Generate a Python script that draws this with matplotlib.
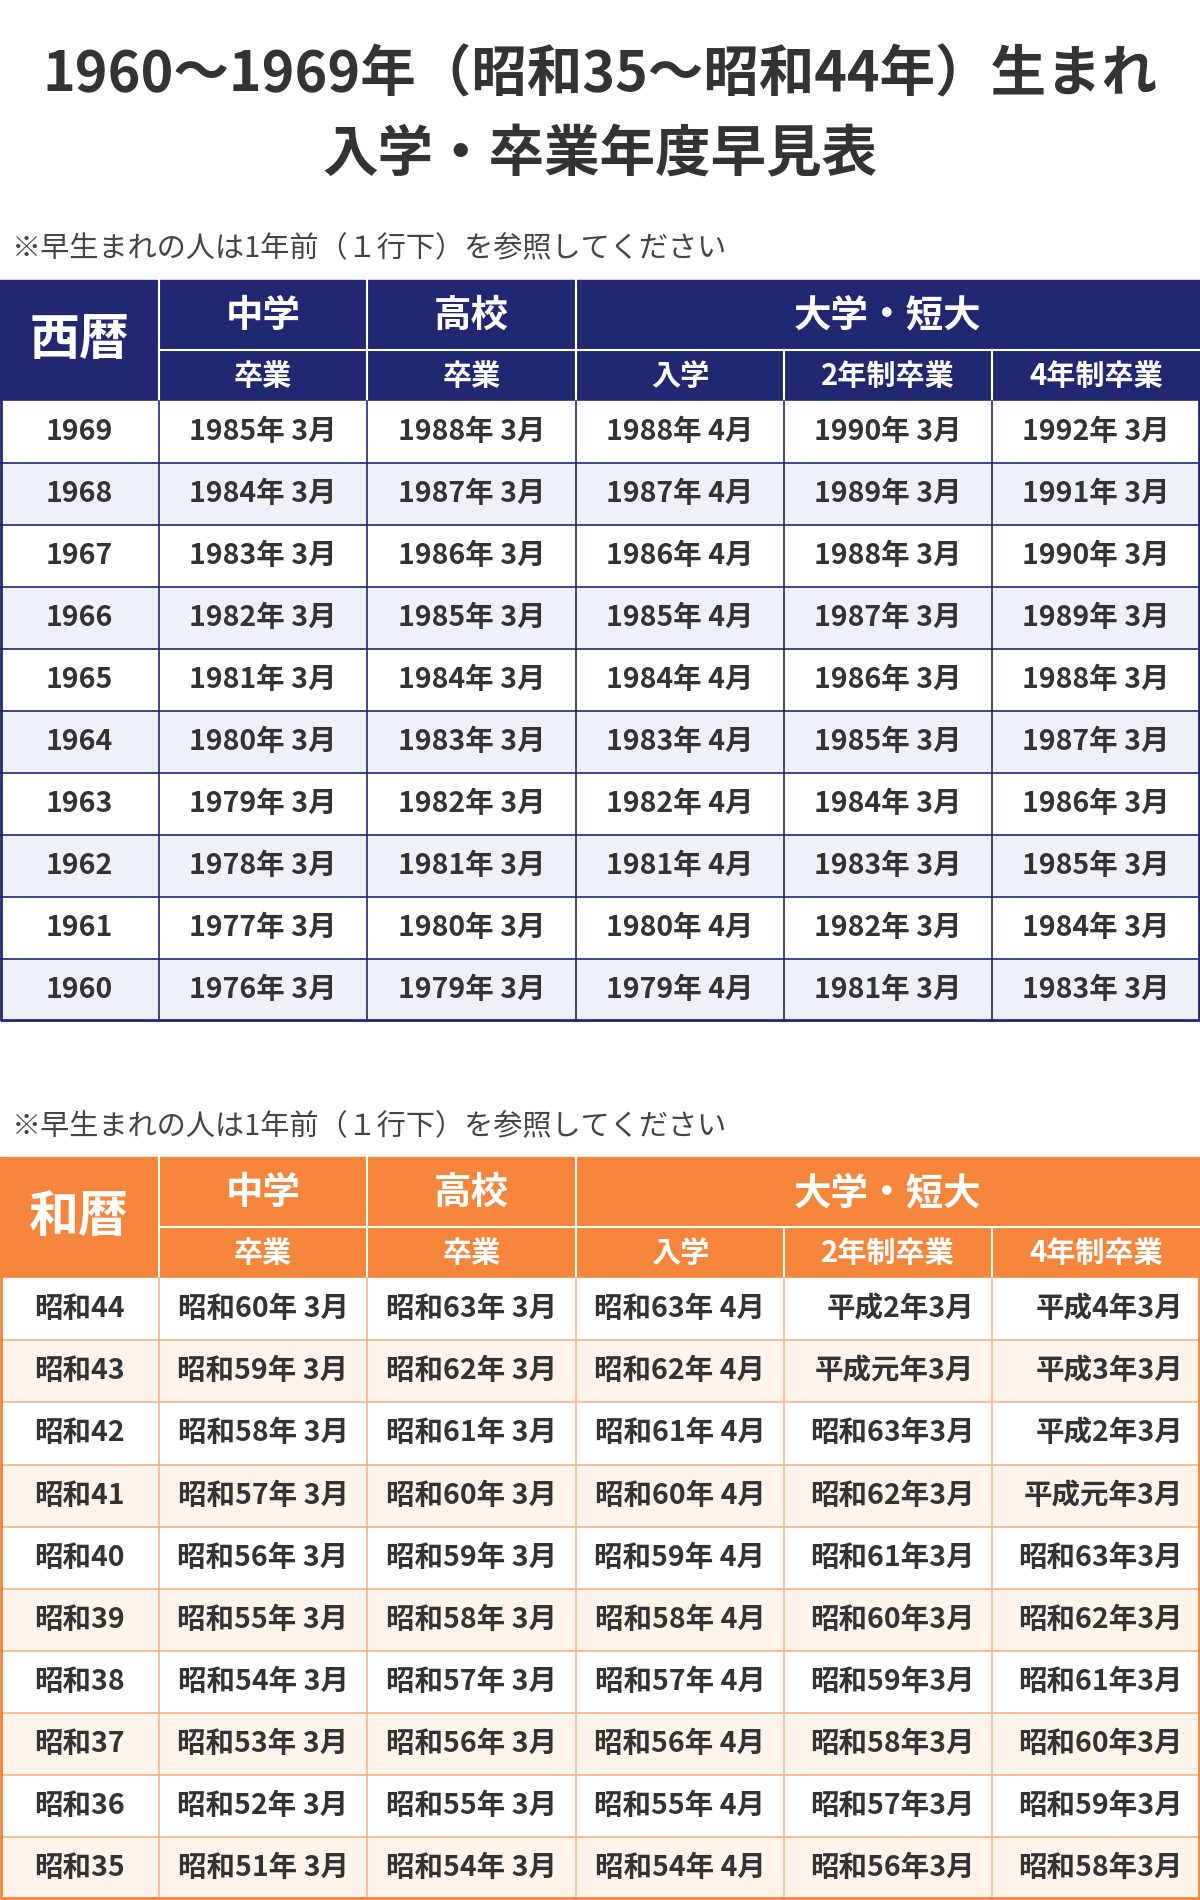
import matplotlib.pyplot as plt
from matplotlib.patches import Rectangle

plt.rcParams["font.family"] = ["Noto Sans CJK JP", "DejaVu Sans"]

TITLE_1 = "1960～1969年（昭和35～昭和44年）生まれ"
TITLE_2 = "入学・卒業年度早見表"
NOTE = "※早生まれの人は1年前（１行下）を参照してください"
GROUPS = ["中学", "高校", "大学・短大"]
SUBHEADS = ["卒業", "卒業", "入学", "2年制卒業", "4年制卒業"]

SEIREKI = ["1969", "1968", "1967", "1966", "1965", "1964", "1963", "1962", "1961", "1960"]
S_JHS = ["1985年 3月", "1984年 3月", "1983年 3月", "1982年 3月", "1981年 3月",
         "1980年 3月", "1979年 3月", "1978年 3月", "1977年 3月", "1976年 3月"]
S_HS = ["1988年 3月", "1987年 3月", "1986年 3月", "1985年 3月", "1984年 3月",
        "1983年 3月", "1982年 3月", "1981年 3月", "1980年 3月", "1979年 3月"]
S_UNI_IN = ["1988年 4月", "1987年 4月", "1986年 4月", "1985年 4月", "1984年 4月",
            "1983年 4月", "1982年 4月", "1981年 4月", "1980年 4月", "1979年 4月"]
S_UNI_2 = ["1990年 3月", "1989年 3月", "1988年 3月", "1987年 3月", "1986年 3月",
           "1985年 3月", "1984年 3月", "1983年 3月", "1982年 3月", "1981年 3月"]
S_UNI_4 = ["1992年 3月", "1991年 3月", "1990年 3月", "1989年 3月", "1988年 3月",
           "1987年 3月", "1986年 3月", "1985年 3月", "1984年 3月", "1983年 3月"]

WAREKI = ["昭和44", "昭和43", "昭和42", "昭和41", "昭和40", "昭和39", "昭和38", "昭和37", "昭和36", "昭和35"]
W_JHS = ["昭和60年 3月", "昭和59年 3月", "昭和58年 3月", "昭和57年 3月", "昭和56年 3月",
         "昭和55年 3月", "昭和54年 3月", "昭和53年 3月", "昭和52年 3月", "昭和51年 3月"]
W_HS = ["昭和63年 3月", "昭和62年 3月", "昭和61年 3月", "昭和60年 3月", "昭和59年 3月",
        "昭和58年 3月", "昭和57年 3月", "昭和56年 3月", "昭和55年 3月", "昭和54年 3月"]
W_UNI_IN = ["昭和63年 4月", "昭和62年 4月", "昭和61年 4月", "昭和60年 4月", "昭和59年 4月",
            "昭和58年 4月", "昭和57年 4月", "昭和56年 4月", "昭和55年 4月", "昭和54年 4月"]
W_UNI_2 = ["平成2年3月", "平成元年3月", "昭和63年3月", "昭和62年3月", "昭和61年3月",
           "昭和60年3月", "昭和59年3月", "昭和58年3月", "昭和57年3月", "昭和56年3月"]
W_UNI_4 = ["平成4年3月", "平成3年3月", "平成2年3月", "平成元年3月", "昭和63年3月",
           "昭和62年3月", "昭和61年3月", "昭和60年3月", "昭和59年3月", "昭和58年3月"]

COL_X = [0, 131, 303, 475, 647, 818, 990]
TEXT = "#333333"


def draw_table(ax, top, first_head, cols, main, alt, line, note_y, right_align=False):
    ax.text(10, note_y, NOTE, fontsize=21, color="#444444", va="center", ha="left")
    h1, h2, rh = 58, 42, 51.2
    ax.add_patch(Rectangle((0, top), 990, h1 + h2, color=main, zorder=1))
    ax.text(COL_X[1] / 2, top + (h1 + h2) / 2, first_head, fontsize=36, weight="bold",
            color="white", ha="center", va="center")
    spans = [(1, 2), (2, 3), (3, 6)]
    for label, (a, b) in zip(GROUPS, spans):
        ax.text((COL_X[a] + COL_X[b]) / 2, top + h1 / 2, label, fontsize=27, weight="bold",
                color="white", ha="center", va="center")
    for i, label in enumerate(SUBHEADS):
        ax.text((COL_X[i + 1] + COL_X[i + 2]) / 2, top + h1 + h2 / 2, label, fontsize=21,
                weight="bold", color="white", ha="center", va="center")
    ax.plot([COL_X[1], 990], [top + h1, top + h1], color="white", lw=1.5, zorder=2)
    for x in COL_X[1:-1]:
        y0 = top + h1 if x in COL_X[4:6] else top
        ax.plot([x, x], [y0, top + h1 + h2], color="white", lw=1.5, zorder=2)

    body = top + h1 + h2
    n = len(cols[0])
    for r in range(n):
        y = body + r * rh
        ax.add_patch(Rectangle((0, y), 990, rh, color="white" if r % 2 == 0 else alt, zorder=1))
        for c, col in enumerate(cols):
            if right_align and c >= 4:
                ax.text(COL_X[c + 1] - 14, y + rh / 2, col[r], fontsize=20.5, weight="bold",
                        color=TEXT, ha="right", va="center", zorder=3)
            else:
                cx = (COL_X[c] + COL_X[c + 1]) / 2
                ax.text(cx, y + rh / 2, col[r], fontsize=20.5, weight="bold", color=TEXT,
                        ha="center", va="center", zorder=3)
        if r > 0:
            ax.plot([0, 990], [y, y], color=line, lw=1.2, zorder=2)
    bottom = body + n * rh
    for x in COL_X[1:-1]:
        ax.plot([x, x], [body, bottom], color=line, lw=1.2, zorder=2)
    ax.plot([1, 1, 989, 989], [body, bottom - 1, bottom - 1, body], color=main, lw=2.0, zorder=2)


fig = plt.figure(figsize=(12, 19), dpi=100)
ax = fig.add_axes([0, 0, 1, 1])
ax.set_xlim(0, 990)
ax.set_ylim(1568, 0)
ax.axis("off")

ax.text(495, 62, TITLE_1, fontsize=40, weight="bold", color="#333333", ha="center", va="center")
ax.text(495, 128, TITLE_2, fontsize=40, weight="bold", color="#333333", ha="center", va="center")

draw_table(ax, 231, "西暦", [SEIREKI, S_JHS, S_HS, S_UNI_IN, S_UNI_2, S_UNI_4],
           "#212770", "#eff1fa", "#212770", 206)
draw_table(ax, 955, "和暦", [WAREKI, W_JHS, W_HS, W_UNI_IN, W_UNI_2, W_UNI_4],
           "#f5853a", "#fff3ea", "#f7b48a", 930, right_align=True)

fig.savefig("out.png", dpi=100, facecolor="white")
